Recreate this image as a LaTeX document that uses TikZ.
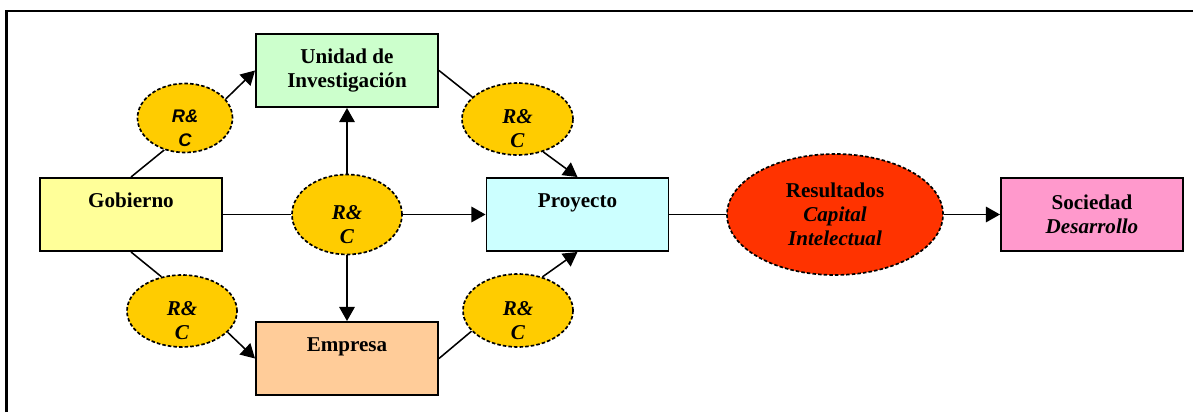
\documentclass[tikz,border=0pt]{standalone}
\usepackage{fontspec}
\setmainfont{Liberation Serif}
\newfontfamily\rcsans{Liberation Sans}
\usepackage{xcolor}
\usetikzlibrary{shapes.geometric, arrows.meta}

\definecolor{unigreen}{HTML}{CCFFCC}
\definecolor{gobyellow}{HTML}{FFFF99}
\definecolor{proycyan}{HTML}{CCFFFF}
\definecolor{emporange}{HTML}{FFCC99}
\definecolor{socpink}{HTML}{FF99CC}
\definecolor{resred}{HTML}{FF3300}
\definecolor{rcgold}{HTML}{FFCC00}

\newcommand{\boxfont}{\fontsize{15}{17}\selectfont\bfseries}

\tikzset{
    box/.style={draw, line width=1.4pt, minimum width=4.55cm, minimum height=1.825cm,
        inner sep=0pt, align=center, font=\boxfont},
    rc/.style={ellipse, draw, line width=1.2pt, dash pattern=on 2.5pt off 1.5pt, fill=rcgold,
        minimum width=2.75cm, minimum height=1.8cm, inner sep=0pt,
        label={[align=center, yshift=-7pt, font=#1]center:{R\&\\C}}},
    rc/.default={\boxfont\itshape},
    link/.style={line width=1.1pt},
    arr/.style={line width=1.1pt, -{Triangle[length=10pt,width=11pt]}},
}

\begin{document}
\begin{tikzpicture}
    \useasboundingbox (0,0) rectangle (29.825,10.3);
    \draw[line width=1.6pt] (0.1625,0) -- (0.1625,10.025) -- (29.825,10.025);

    \node[box, fill=unigreen]  (uni)  at (8.675,8.5375)  {Unidad de\\Investigación};
    \node[box, fill=gobyellow] (gob)  at (3.275,4.9375)  {\strut Gobierno\\\strut};
    \node[box, fill=proycyan]  (proy) at (14.4375,4.9375) {\strut Proyecto\\\strut};
    \node[box, fill=emporange] (emp)  at (8.675,1.3375)  {\strut Empresa\\\strut};
    \node[box, fill=socpink]   (soc)  at (27.3,4.9375)   {Sociedad\\\textit{Desarrollo}};

    \node[ellipse, draw, line width=1.2pt, dash pattern=on 2.5pt off 1.5pt, fill=resred,
        minimum width=5.4cm, minimum height=3.025cm, inner sep=0pt, align=center,
        font=\boxfont] (res) at (20.875,4.9375)
        {Resultados\\\textit{Capital}\\\textit{Intelectual}};

    \node[rc={\rcsans\fontsize{13}{17}\selectfont\bfseries\itshape},
        minimum width=2.375cm, minimum height=1.725cm] (rcgob) at (4.625,7.35) {};
    \node[rc] (rcemp)  at (4.55,2.525)    {};
    \node[rc, minimum height=2cm] (rcmid) at (8.675,4.9375) {};
    \node[rc, minimum width=2.775cm] (rcuni) at (12.9375,7.325) {};
    \node[rc, minimum height=1.825cm] (rcproy) at (12.95,2.5375) {};

    \draw[link] (gob.north) -- (rcgob.237);
    \draw[arr]  (rcgob.25) -- (uni.west);
    \draw[link] (gob.south) -- (rcemp.121);
    \draw[arr]  (rcemp.335) -- (emp.west);
    \draw[link] (gob.east) -- (rcmid.west);
    \draw[arr]  (rcmid.east) -- (proy.west);
    \draw[arr]  (rcmid.north) -- (uni.south);
    \draw[arr]  (rcmid.south) -- (emp.north);
    \draw[link] (uni.east) -- (rcuni.154);
    \draw[arr]  (rcuni.308) -- (proy.north);
    \draw[link] (emp.east) -- (rcproy.204);
    \draw[arr]  (rcproy.54) -- (proy.south);
    \draw[link] (proy.east) -- (res.west);
    \draw[arr]  (res.east) -- (soc.west);
\end{tikzpicture}
\end{document}
